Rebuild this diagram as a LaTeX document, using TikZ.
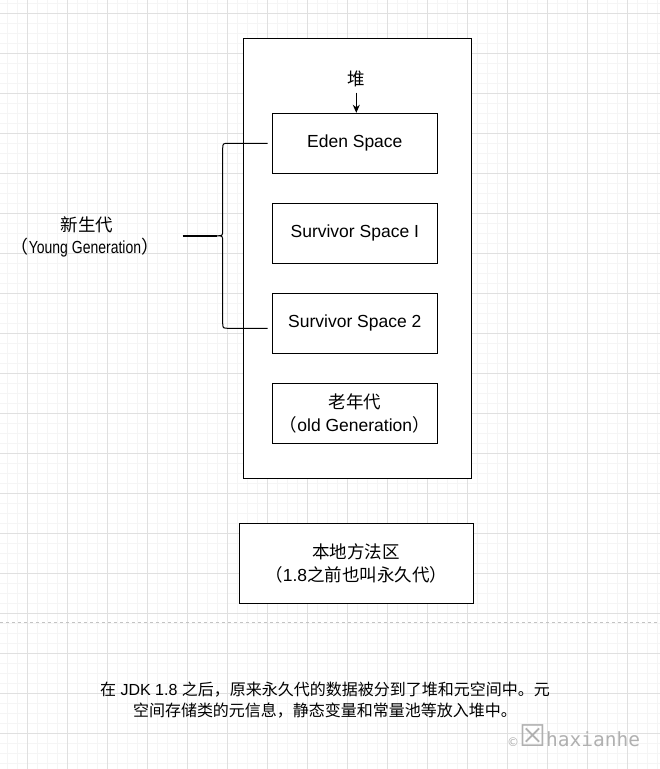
\documentclass[tikz,border=0pt]{standalone}
\usepackage{fontspec}
\setmainfont{Liberation Sans}
\newfontfamily\cjk{Noto Sans CJK SC}
\newfontfamily\narrowsans[FakeStretch=0.8]{Liberation Sans}
\newfontfamily\dvs{DejaVu Sans}
\newfontfamily\dvm{DejaVu Sans Mono}
\usetikzlibrary{arrows.meta,calc}
\definecolor{gridmajor}{RGB}{224,224,224}
\definecolor{gridminor}{RGB}{245,245,245}
\definecolor{wmgray}{RGB}{176,176,176}
\definecolor{dashgray}{RGB}{195,195,195}
\begin{document}
\begin{tikzpicture}[x=1pt,y=-1pt,
  box/.style={draw=black,line width=1pt,fill=white,minimum width=165pt,minimum height=60pt,inner sep=0pt,align=center,font=\fontsize{17.5}{23}\selectfont},
  bigbox/.style={draw=black,line width=1pt,fill=white,inner sep=0pt},
  label/.style={inner sep=0pt,align=center},
  conn/.style={draw=black,line width=1pt},
  minorline/.style={draw=gridminor,line width=1pt},
  majorline/.style={draw=gridmajor,line width=1pt}]
\useasboundingbox (0,0) rectangle (660,769);
\fill[white] (0,0) rectangle (660,769);
% grid
\foreach \x in {7.3,17.3,...,657.3} \draw[minorline] (\x,0) -- (\x,769);
\foreach \y in {3.3,13.3,...,767.3} \draw[minorline] (0,\y) -- (660,\y);
\foreach \x in {27.3,67.3,...,660} \draw[majorline] (\x,0) -- (\x,769);
\foreach \y in {13.3,53.3,...,769} \draw[majorline] (0,\y) -- (660,\y);
% dashed separator
\draw[dashgray,line width=1pt,dash pattern=on 3pt off 3pt] (0,622.3) -- (660,622.3);

% heap outer box
\node[bigbox,minimum width=227.3pt,minimum height=440pt] (heap) at (357.35,258.3) {};
\node[label,inner sep=5pt,font=\cjk\fontsize{17.5}{20}\selectfont] (hlabel) at (356.3,79.3) {堆};

\node[box] (eden) at (354.8,143.3) {Eden Space};
\node[box] (s1) at (354.8,233.3) {Survivor Space I};
\node[box] (s2) at (354.8,323.3) {Survivor Space 2};
\node[box] (old) at (354.8,413.3) {{\cjk 老年代}\\{\cjk （}old Generation{\cjk ）}};

\draw[conn,-{Stealth[length=8pt,width=7pt,inset=2.5pt]}] (hlabel.south) -- (hlabel.south |- eden.north);

% method area
\node[box,minimum width=234.3pt,minimum height=80pt] (meta) at (356.2,563.3) {{\cjk 本地方法区}\\{\cjk （}1.8{\cjk 之前也叫永久代）}};

% young generation label
\node[label,font=\cjk\fontsize{17.5}{20}\selectfont] (yg1) at (87.2,225) {新生代};
\node[label,font=\narrowsans\fontsize{17.5}{20}\selectfont] (yg2) at (85,248) {{\cjk\fontsize{18}{20}\selectfont （}Young Generation{\cjk\fontsize{18}{20}\selectfont ）}};

% brace
\coordinate (bt) at ($(eden.west)+(-4.3,0)$);
\coordinate (bb) at ($(s2.west)+(-4.3,5)$);
\coordinate (tip) at (216.7,235.8);
\coordinate (tail) at (182.7,235.8);
\draw[conn] (bt) -- (229,143.3) .. controls (222.7,143.3) .. (222.7,149.3) -- (222.7,229.8)
  .. controls (222.7,235.8) .. (tip) .. controls (222.7,235.8) .. (222.7,241.8) -- (222.7,322.3)
  .. controls (222.7,328.3) .. (229,328.3) -- (bb);
\draw[conn,line width=1.4pt] (tail) -- (tip);

% bottom note
\node[label,font=\fontsize{16}{21.5}\selectfont] (note) at (325,700) {{\cjk 在} JDK 1.8 {\cjk 之后，原来永久代的数据被分到了堆和元空间中。元}\\{\cjk 空间存储类的元信息，静态变量和常量池等放入堆中。}};

% watermark
\node[anchor=base west,inner sep=0pt,text=wmgray] (wm) at (507,746.7) {{\dvs\fontsize{12}{12}\selectfont ©}{\dvs\fontsize{30}{30}\selectfont ☒}{\dvm\fontsize{19.5}{19.5}\selectfont haxianhe}};
\end{tikzpicture}
\end{document}
